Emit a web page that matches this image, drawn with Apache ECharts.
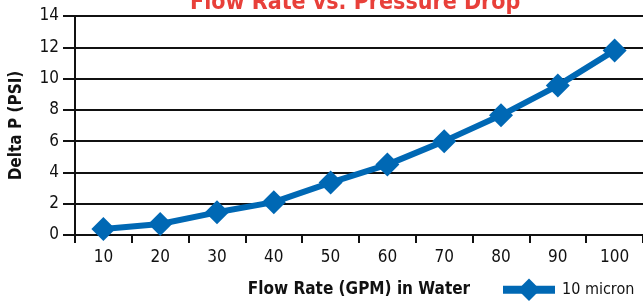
<!DOCTYPE html>
<html>
<head>
<meta charset="utf-8">
<script src="https://cdn.jsdelivr.net/npm/echarts@6/dist/echarts.min.js"></script>
<style>
  html, body { margin: 0; padding: 0; background: #fff; }
  #chart { width: 643px; height: 303px; }
</style>
</head>
<body>
<div id="chart"></div>
<script>
var flowRates = ["10", "20", "30", "40", "50", "60", "70", "80", "90", "100"];
var deltaP = [0.38, 0.7, 1.45, 2.1, 3.35, 4.5, 6.0, 7.65, 9.55, 11.8];
var yTicks = { min: 0, max: 14, interval: 2 };

var font = "'Liberation Sans Narrow', 'DejaVu Sans Condensed', sans-serif";
var blue = "#0068b4";

var myChart = echarts.init(document.getElementById("chart"));
var option = {
  animation: false,
  title: {
    text: "Flow Rate vs. Pressure Drop",
    left: 185,
    top: -13,
    textStyle: { color: "#e8403a", fontSize: 23, fontWeight: "bold", fontFamily: font }
  },
  grid: { left: 75, right: 0, top: 16, bottom: 66 },
  legend: {
    left: 494,
    bottom: -3,
    itemWidth: 52,
    itemHeight: 28,
    itemGap: 10,
    lineStyle: { width: 8 },
    textStyle: { color: "#111", fontSize: 16, fontFamily: font, padding: [0, 0, 0, 2] },
    data: ["10 micron"]
  },
  xAxis: {
    type: "category",
    data: flowRates,
    boundaryGap: true,
    name: "Flow Rate (GPM) in Water",
    nameLocation: "middle",
    nameGap: 46,
    nameTextStyle: { color: "#111", fontSize: 17, fontWeight: "bold", fontFamily: font },
    axisLine: { lineStyle: { color: "#111", width: 2 } },
    axisTick: { show: true, length: 8, lineStyle: { color: "#111", width: 2 } },
    axisLabel: { color: "#111", fontSize: 17, margin: 14, fontFamily: font }
  },
  yAxis: {
    type: "value",
    min: yTicks.min,
    max: yTicks.max,
    interval: yTicks.interval,
    name: "Delta P (PSI)",
    nameLocation: "middle",
    nameGap: 50,
    nameTextStyle: { color: "#111", fontSize: 17, fontWeight: "bold", fontFamily: font },
    axisLine: { show: true, lineStyle: { color: "#111", width: 2 } },
    axisTick: { show: true, length: 12, lineStyle: { color: "#111", width: 2 } },
    axisLabel: { color: "#111", fontSize: 17, margin: 16, fontFamily: font },
    splitLine: { lineStyle: { color: "#111", width: 2 } }
  },
  series: [{
    name: "10 micron",
    type: "line",
    data: deltaP,
    symbol: "diamond",
    symbolSize: 24,
    itemStyle: { color: blue },
    lineStyle: { color: blue, width: 6 }
  }]
};
myChart.setOption(option, true);
</script>
</body>
</html>
